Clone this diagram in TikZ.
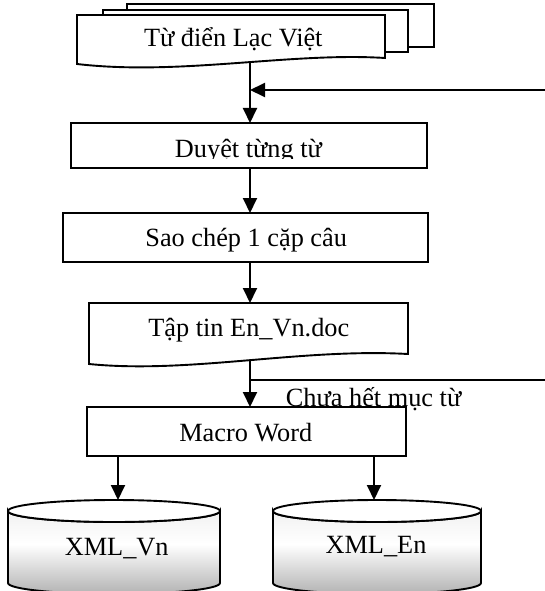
\documentclass[tikz,border=0pt]{standalone}
\usepackage{fontspec}
\setmainfont{Liberation Serif}
\usetikzlibrary{arrows.meta}
% body shading of the database drums (bottom to top)
\pgfdeclareverticalshading{drum}{100bp}{color(0bp)=(black!50); color(25bp)=(black!30); color(55bp)=(white); color(85bp)=(white!92!black); color(100bp)=(black!35)}
\begin{document}
\begin{tikzpicture}[x=1pt, y=-1pt, line width=1.9pt,
  font=\fontsize{26.3}{30}\selectfont,
  flowbox/.style={draw, fill=white, inner sep=0pt, outer sep=0pt},
  txt/.style={inner sep=0pt, anchor=base},
  flow/.style={-{Triangle[length=15pt,width=14pt]}}]

\useasboundingbox (0,0) rectangle (544,591);

% ---- stacked dictionary documents ----
\draw[fill=white] (127,4) rectangle (434,47);
\draw[fill=white] (103,10) rectangle (408,52);
\draw[fill=white] (77,15) -- (385,15) -- (385,58)
  .. controls (290,52) and (180,76) .. (77,64) -- cycle;
\node[txt] (dict) at (233.3,46.7) {Từ điển Lạc Việt};
\coordinate (dictout) at (250,62);

% ---- process boxes ----
\node[flowbox, minimum width=356pt, minimum height=45pt] (duyet) at (249,145.5) {};
\begin{scope}
  \clip (71,120) rectangle (427,158.7);
  \node[txt] (duyettxt) at (248.4,157.7) {Duyệt từng từ};
\end{scope}

\node[flowbox, minimum width=365pt, minimum height=49pt] (sao) at (245.5,237.5) {};
\node[txt] (saotxt) at (246.2,246.7) {Sao chép 1 cặp câu};

% ---- output document ----
\draw[fill=white] (89,303) -- (408,303) -- (408,354)
  .. controls (300,348) and (190,374) .. (89,364) -- cycle;
\coordinate (taptop) at (250,303);
\node[txt] (taptxt) at (248.8,336.7) {Tập tin En\_Vn.doc};
\coordinate (tapout) at (250,360);

% loop label, partly covered by the macro box
\node[txt, anchor=base west] (loopnote) at (285,406.5) {Chưa hết mục từ};

\node[flowbox, minimum width=319pt, minimum height=49pt] (macro) at (246.5,431.5) {};
\node[txt] (macrotxt) at (245.8,441.7) {Macro Word};

% ---- database drums ----
\foreach \cx/\rx in {114/106, 377/104}{
  \path[draw, shading=drum]
    (\cx-\rx,511) -- (\cx-\rx,583)
    arc[start angle=180, end angle=360, x radius=\rx pt, y radius=11pt]
    -- (\cx+\rx,511)
    arc[start angle=0, end angle=-180, x radius=\rx pt, y radius=11pt] -- cycle;
  \draw[fill=white] (\cx,511) ellipse[x radius=\rx pt, y radius=11pt];
}
\node[txt] (vn) at (116.7,555) {XML\_Vn};
\node[txt] (en) at (376,553.3) {XML\_En};
\coordinate (vntop) at (118,500);
\coordinate (entop) at (374,500);

% ---- connectors ----
\coordinate (loopin) at (546,90);
\coordinate (loopout) at (546,380);
\draw[flow] (dictout) -- (dictout |- duyet.north);
\draw[flow] (loopin) -- (loopin -| dictout);
\draw[flow] (duyet.south -| dictout) -- (dictout |- sao.north);
\draw[flow] (sao.south -| taptop) -- (taptop);
\draw[flow] (tapout) -- (tapout |- macro.north);
\draw (tapout |- loopout) -- (loopout);
\draw[flow] (vntop |- macro.south) -- (vntop);
\draw[flow] (entop |- macro.south) -- (entop);
\end{tikzpicture}
\end{document}
